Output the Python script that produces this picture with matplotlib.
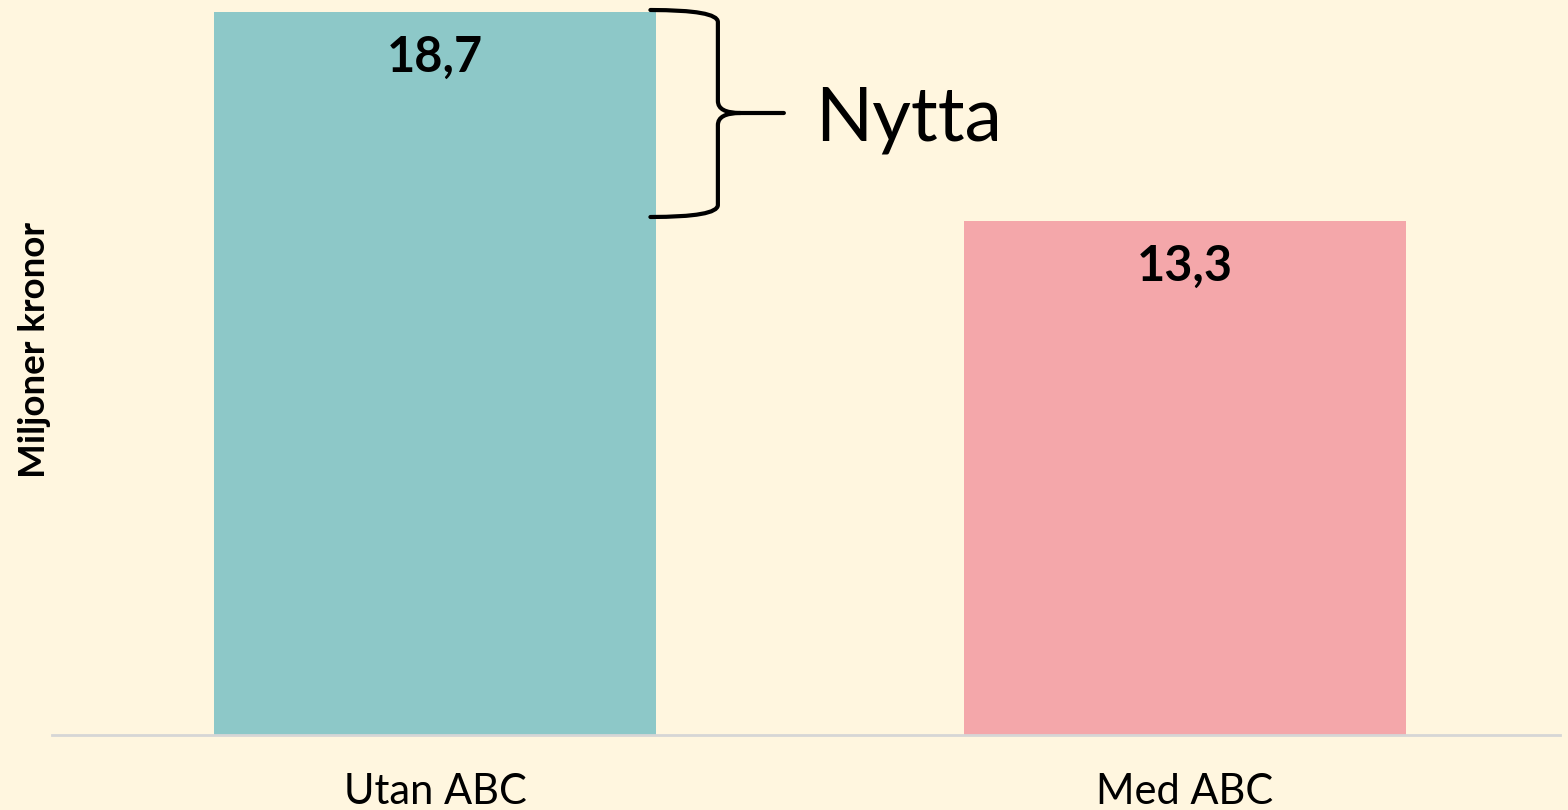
import matplotlib
matplotlib.use("Agg")
import matplotlib.pyplot as plt
from matplotlib.path import Path
from matplotlib.patches import PathPatch

categories = ["Utan ABC", "Med ABC"]
values = [18.7, 13.3]
value_labels = ["18,7", "13,3"]
colors = ["#8DC8C8", "#F4A7AA"]
brace_label = "Nytta"
ylabel = "Miljoner kronor"

BG = "#FFF6DF"
W, H = 1568, 810
fig = plt.figure(figsize=(W / 100, H / 100), dpi=100, facecolor=BG)
ax = fig.add_axes([52 / W, 1 - 735 / H, (1560 - 52) / W, 735 / H])
ax.set_facecolor(BG)

x = list(range(len(categories)))
ax.bar(x, values, width=0.589, color=colors, zorder=2)
ax.set_xlim(-0.511, 1.5)
ax.set_ylim(0, 18.7 * 735 / 723)

for xi, v, lab in zip(x, values, value_labels):
    ax.text(xi, v - 0.6, lab, ha="center", va="top", fontsize=35,
            fontweight="bold", family="Lato", color="black")

for s in ["top", "right", "left"]:
    ax.spines[s].set_visible(False)
ax.spines["bottom"].set_color("#D6D6D6")
ax.spines["bottom"].set_linewidth(2)
ax.set_yticks([])
ax.set_xticks(x)
ax.set_xticklabels(categories, fontsize=30, family="Lato")
ax.tick_params(axis="x", length=0, pad=27)

fig.text(35 / W, 1 - 350 / H, ylabel, rotation=90, ha="center", va="center",
         fontsize=26.5, fontweight="bold", family="Lato")

# brace (curly bracket) in data coordinates
def py(p):
    return (735 - p) / 723 * 18.7
x0, xv, xt = 0.287, 0.377, 0.465
yt, ym, yb = py(10), py(113), py(217)
d = py(10) - py(22)
verts = [
    (x0, yt), (xv, yt), (xv, yt - d),
    (xv, ym + d),
    (xv, ym), (xv + 0.03, ym),
    (xt, ym),
    (xv + 0.03, ym),
    (xv, ym), (xv, ym - d),
    (xv, yb + d),
    (xv, yb), (x0, yb),
]
codes = [Path.MOVETO, Path.CURVE3, Path.CURVE3,
         Path.LINETO,
         Path.CURVE3, Path.CURVE3,
         Path.LINETO,
         Path.MOVETO,
         Path.CURVE3, Path.CURVE3,
         Path.LINETO,
         Path.CURVE3, Path.CURVE3]
ax.add_patch(PathPatch(Path(verts, codes), fill=False, lw=3, color="black",
                       capstyle="round", joinstyle="round", clip_on=False, zorder=3))

ax.text((815 - 435) / 750, ym, brace_label, ha="left", va="center_baseline",
        fontsize=54, family="Lato", color="black")

fig.savefig("out.png", dpi=100, facecolor=BG)
